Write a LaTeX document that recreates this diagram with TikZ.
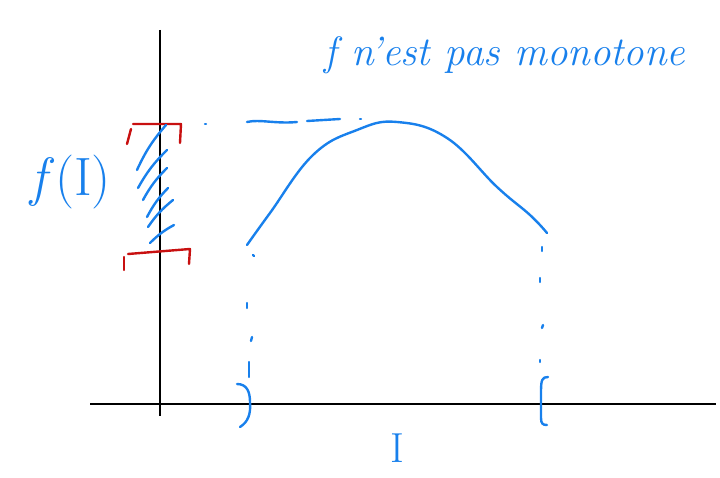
\documentclass[tikz,border=0pt]{standalone}
\usepackage{tikz}
\usetikzlibrary{calc}
\definecolor{penblue}{RGB}{24,128,236}
\definecolor{penred}{RGB}{200,16,16}
\tikzset{
  axis/.style={draw=black, line width=2.4pt},
  ink/.style={draw=penblue, line width=2.4pt, line cap=round, line join=round},
  redink/.style={draw=penred, line width=2.4pt, line cap=round, line join=round},
  hand/.style={text=penblue, inner sep=0pt, font=\itshape},
}
\begin{document}
\begin{tikzpicture}[x=1pt, y=-1pt]
  \useasboundingbox (0,0) rectangle (720,478);
  % axes
  \draw[axis] (160,30) -- (160,416);
  \draw[axis] (90,404) -- (716,404);
  % the curve
  \coordinate (A) at (247,245);
  \coordinate (B) at (547,233);
  \coordinate (top) at (397,122);
  \draw[ink] plot[smooth, tension=0.7] coordinates {(A) (270,213) (313,155) (357,130) (top) (447,138) (497,187) (530,215) (B)};
  % projections
  \draw[ink] (205,124) -- (206,124);
  \draw[ink] (247,122) .. controls (260,119) and (275,124) .. (297,122);
  \draw[ink] (307,121) -- (340,119);
  \draw[ink] (360,119) -- (361,119);
  \foreach \xa/\ya/\xb/\yb in {253/255/254/256, 247/303/247/308, 252/337/251/341, 249/362/249/377,
                               542/247/542/251, 540/278/540/282, 543/325/542/328, 540/360/540/362} {
    \draw[ink] (\xa,\ya) -- (\xb,\yb);
  }
  % open interval on the x axis
  \draw[ink] (237,384) .. controls (247,384) and (250,392) .. (250,402) .. controls (251,414) and (248,422) .. (240,427);
  \draw[ink] (548,377) .. controls (542,377) and (541,380) .. (541,392) -- (541,418) .. controls (541,424) and (543,425) .. (547,425);
  % f(I) on the y axis
  \draw[redink] (133,124) -- (181,124) -- (180,143);
  \draw[redink] (131,129) -- (127,144);
  \draw[redink] (128,254) -- (190,249) -- (189,264);
  \draw[redink] (124,257) -- (124,270);
  \foreach \xa/\ya/\xb/\yb in {137/170/166/125, 138/188/167/150, 143/200/167/168, 147/217/168/188,
                               148/227/173/200, 150/243/174/225} {
    \draw[ink] (\xa,\ya) to[bend left=8] (\xb,\yb);
  }
  % labels
  \node[hand, font=\fontsize{54}{58}\selectfont] (fI) at (71,182) {\textit{f}(I)};
  \node[hand, font=\fontsize{42}{46}\selectfont] (I) at (397,448) {I};
  \node[hand, font=\fontsize{41}{45}\selectfont\itshape] (title) at (505,55) {f n'est pas monotone};
\end{tikzpicture}
\end{document}
